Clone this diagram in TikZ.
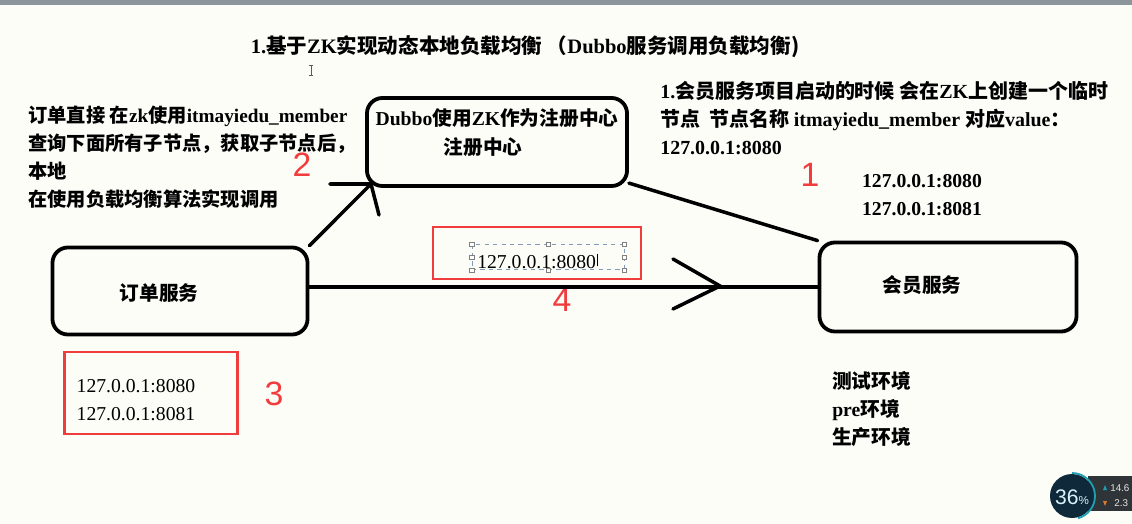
\documentclass[tikz,border=0pt]{standalone}
\usepackage{fontspec}
\setmainfont{Liberation Serif}
\newfontfamily\cjk{Noto Sans CJK SC}
\newfontfamily\numfont{Liberation Sans}
\newcommand{\zh}[1]{{\cjk #1}}
\newcommand{\IpA}{127.0.0.1:8080}
\newcommand{\IpB}{127.0.0.1:8081}
\newcommand{\ZkNode}{itmayiedu\_member}
\definecolor{markred}{HTML}{F03C3C}
\definecolor{paper}{HTML}{FDFDF8}
\definecolor{barGray}{HTML}{8C949C}
\definecolor{selblue}{HTML}{7F9DB9}
\definecolor{meterbg}{HTML}{10293A}
\definecolor{metertl}{HTML}{1F9FB0}
\definecolor{panelbg}{HTML}{2E3438}
\definecolor{downor}{HTML}{E07A2A}

\begin{document}
\begin{tikzpicture}[x=0.025cm,y=-0.025cm,
  svcbox/.style={draw,line width=2.7pt,rounded corners=11pt,inner sep=0pt},
  redbox/.style={draw=markred,line width=1.8pt,inner sep=0pt},
  selbox/.style={draw=selblue,dashed,line width=0.5pt,inner sep=0pt},
  handle/.style={draw=gray,fill=white,line width=0.3pt,inner sep=0pt,minimum size=3pt},
  marknum/.style={text=markred,font=\numfont\fontsize{24}{28}\selectfont,inner sep=0pt},
  txt/.style={font=\fontsize{14}{20}\selectfont\bfseries,inner sep=0pt},
  iptxt/.style={font=\fontsize{14}{20}\selectfont,inner sep=0pt},
  wire/.style={line width=2.5pt,line cap=round}]
\fill[paper] (0,0) rectangle (1132,524);
\fill[barGray] (0,0) rectangle (1132,5);

% title
\node[txt,font=\fontsize{14.6}{20}\selectfont\bfseries] (title) at (525,47) {1.\zh{基于}ZK\zh{实现动态本地负载均衡 （}Dubbo\zh{服务调用负载均衡)}};
% text cursor
\draw[gray!70!black,line width=0.5pt] (311,65) -- (311,75) (309,65) -- (313,65) (309,75) -- (313,75);

% boxes
\node[svcbox,minimum width=6.5cm,minimum height=2.2cm] (reg) at (497,142) {};
\node[svcbox,minimum width=6.375cm,minimum height=2.175cm] (order) at (180,291) {};
\node[svcbox,minimum width=6.425cm,minimum height=2.225cm] (member) at (948,287) {};

\node[txt] (regtitle) at (497,118) {Dubbo\zh{使用}ZK\zh{作为注册中心}};
\node[txt] (regsub) at (483,147) {\zh{注册中心}};
\node[txt] (ordertext) at (159,293) {\zh{订单服务}};
\node[txt] (memtext) at (922,285) {\zh{会员服务}};

% notes
\node[txt,font=\fontsize{13.7}{19.9}\selectfont\bfseries,anchor=west,align=left] (ordernote) at (28,157) {\zh{订单直接 在}zk\zh{使用}\ZkNode\\
\zh{查询下面所有子节点，获取子节点后，}\\
\zh{本地}\\
\zh{在使用负载均衡算法实现调用}};
\node[txt,font=\fontsize{14.2}{19.6}\selectfont\bfseries,anchor=west,align=left] (memnote) at (660,118) {1.\zh{会员服务项目启动的时候 会在}ZK\zh{上创建一个临时}\\
\zh{节点\ \ 节点名称 }\ZkNode\ \zh{对应}value\zh{：}\\
\IpA};
\node[txt,align=center] (memips) at (922,195) {\IpA\\\IpB};
\node[txt,anchor=west,align=left] (envs) at (832,409) {\zh{测试环境}\\pre\zh{环境}\\\zh{生产环境}};

% red marks
\node[redbox,minimum width=5.2cm,minimum height=1.3cm] (callbox) at (537,253) {};
\node[selbox,minimum width=3.8cm,minimum height=0.625cm] (sel) at (548,257) {};
\foreach \a in {north west,north,north east,east,south east,south,south west,west}
  \node[handle] at (sel.\a) {};
\node[iptxt,anchor=west] (callip) at (477,262) {\IpA};
\draw[line width=0.6pt] ([xshift=1pt,yshift=6pt]callip.east) -- ([xshift=1pt,yshift=-3pt]callip.east);
\node[redbox,minimum width=4.325cm,minimum height=2.05cm] (cachebox) at (151,393) {};
\node[iptxt,align=center] (cacheips) at (136,400) {\IpA\\\IpB};

\node[marknum] (m1) at (810,175) {1};
\node[marknum] (m2) at (302,165) {2};
\node[marknum] (m3) at (274,394) {3};
\node[marknum] (m4) at (562,300) {4};

% connectors
\coordinate (tip) at (371,184);
\coordinate (tipl) at (330,184);
\coordinate (tipd) at (379,215);
\draw[wire] (order.north east) -- (tip);
\draw[wire] (tipl) -- (tip) -- (tipd);
\draw[wire] ([yshift=0.12cm]reg.south east) -- (member.north west);
\coordinate (chev) at (720,286);
\coordinate (chevup) at (673,259);
\coordinate (chevdn) at (673,309);
\draw[wire] (order.east |- member.west) -- (member.west);
\draw[wire] (chevup) -- (chev) -- (chevdn);

% meter
\fill[panelbg] (1088,476) rectangle (1132,511);
\fill[meterbg] (1072,496) circle (22);
\draw[metertl,line width=1.3pt] (1072,473) arc[start angle=-90,end angle=75,radius=23];
\node[text=white!85!cyan,font=\numfont\fontsize{15}{17}\selectfont,inner sep=0pt] (meterval) at (1072,497) {36\scalebox{0.55}{\%}};
\fill[metertl] (1103,490) -- (1107,490) -- (1105,485) -- cycle;
\fill[downor] (1103,501) -- (1107,501) -- (1105,506) -- cycle;
\node[text=white!80!gray,font=\numfont\fontsize{7}{8}\selectfont,anchor=west,inner sep=0pt] (up) at (1110,488) {14.6};
\node[text=white!80!gray,font=\numfont\fontsize{7}{8}\selectfont,anchor=west,inner sep=0pt] (down) at (1114,503) {2.3};
\end{tikzpicture}
\end{document}
